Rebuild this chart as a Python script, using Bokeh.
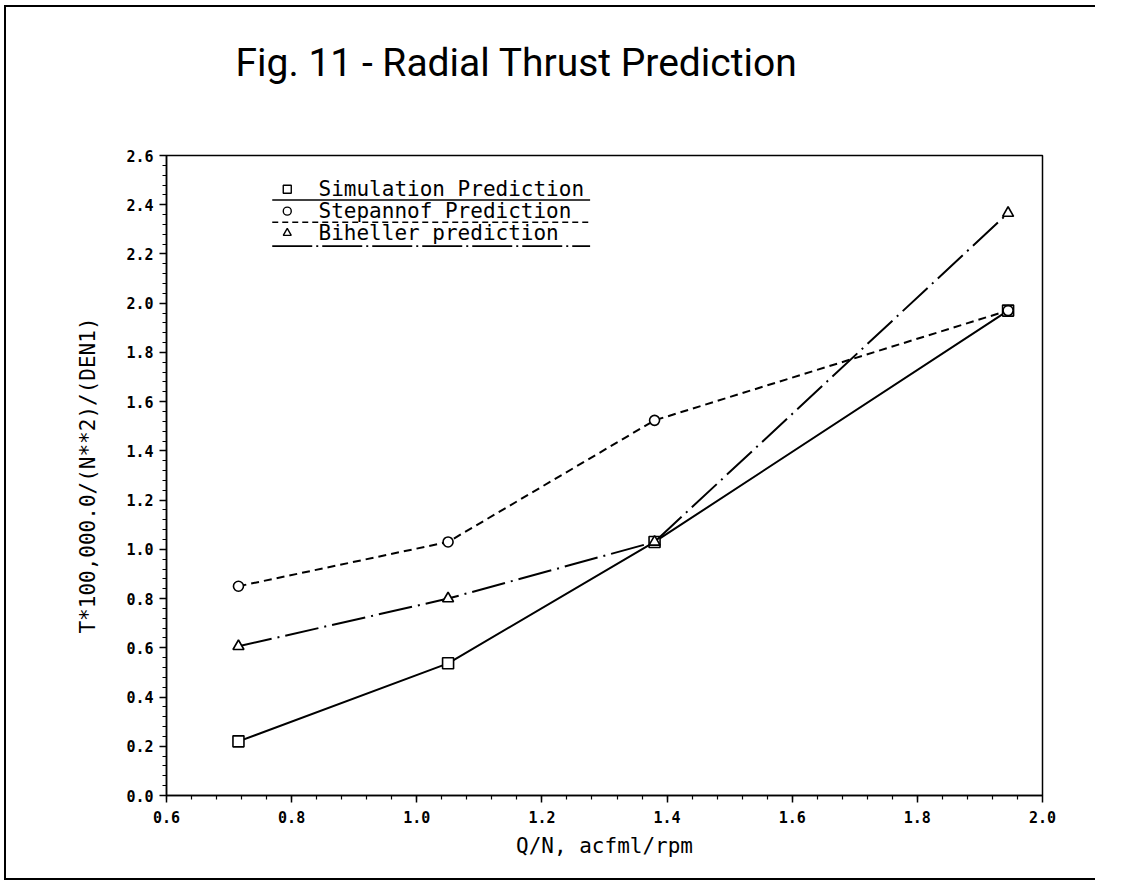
from bokeh.plotting import figure
from bokeh.models import FixedTicker, NumeralTickFormatter, Range1d, Title, InlineStyleSheet
from bokeh.embed import file_html
from bokeh.resources import INLINE

# Flow coefficient Q/N for the four operating points
q_over_n = [0.715, 1.05, 1.38, 1.945]

# Non-dimensional radial thrust for each prediction method
simulation = [0.22, 0.537, 1.03, 1.97]
stepannof = [0.85, 1.03, 1.524, 1.97]
biheller = [0.606, 0.80, 1.03, 2.366]

series_names = ["Simulation Prediction", "Stepannof Prediction", "Biheller prediction"]

x_major = [0.6, 0.8, 1.0, 1.2, 1.4, 1.6, 1.8, 2.0]
y_major = [round(0.2 * i, 1) for i in range(14)]

W, H = 1135, 885
LEFT, RIGHT, TOP, BOTTOM = 166, 93, 155, 90
p = figure(width=W, height=H, output_backend="svg", toolbar_location=None,
           x_range=Range1d(0.6, 2.0), y_range=Range1d(0.0, 2.6),
           min_border_left=LEFT, min_border_right=RIGHT,
           min_border_top=TOP, min_border_bottom=BOTTOM)
p.background_fill_color = "white"
p.border_fill_color = "white"
p.outline_line_color = "black"
p.outline_line_width = 1.5
p.grid.visible = False
# page frame around the sheet (open on the right-hand side)
p.stylesheets = [InlineStyleSheet(css="""
:host::after {
  content: "";
  position: absolute;
  left: 4px; top: 5px; right: 40px; bottom: 5px;
  border: 2px solid black;
  border-right: none;
  pointer-events: none;
  z-index: 10;
}
""")]

mono = "DejaVu Sans Mono"

# axes
p.xaxis.ticker = FixedTicker(ticks=x_major,
                             minor_ticks=[round(0.6 + 0.04 * i, 2) for i in range(35)])
p.yaxis.ticker = FixedTicker(ticks=y_major,
                             minor_ticks=[round(0.04 * i, 2) for i in range(66)])
for ax in (p.xaxis[0], p.yaxis[0]):
    ax.formatter = NumeralTickFormatter(format="0.0")
    ax.axis_line_width = 1.5
    ax.major_tick_line_width = 1.5
    ax.minor_tick_line_width = 1.2
    ax.major_tick_out = 7
    ax.major_tick_in = 0
    ax.minor_tick_out = 4
    ax.minor_tick_in = 0
    ax.major_label_text_font = mono
    ax.major_label_text_font_style = "bold"
    ax.major_label_text_font_size = "15px"
    ax.major_label_text_color = "black"
    ax.axis_label_text_font = mono
    ax.axis_label_text_font_style = "normal"
    ax.axis_label_text_font_size = "21px"
    ax.axis_label_text_color = "black"

p.xaxis.axis_label = "Q/N, acfml/rpm"
p.xaxis.major_label_standoff = 8
p.xaxis.axis_label_standoff = 8
p.yaxis.axis_label = "T*100,000.0/(N**2)/(DEN1)"
p.yaxis.major_label_standoff = 6
p.yaxis.axis_label_standoff = 23

# series
lw = 2
p.line(q_over_n, simulation, line_color="black", line_width=lw)
p.scatter(q_over_n, simulation, marker="square", size=11, fill_color="white",
          line_color="black", line_width=1.6)

p.line(q_over_n, stepannof, line_color="black", line_width=lw, line_dash="8 5")
p.scatter(q_over_n, stepannof, marker="circle", size=10, fill_color="white",
          line_color="black", line_width=1.6)

p.line(q_over_n, biheller, line_color="black", line_width=lw, line_dash="34 6 2 6")
p.scatter(q_over_n, biheller, marker="triangle", size=11, fill_color="white",
          line_color="black", line_width=1.6)

# legend: marker, name, and a line sample underneath each entry
leg_x0, leg_x1 = 0.769, 1.277
leg_mark_x, leg_text_x = 0.793, 0.843
leg_rows = [2.463, 2.374, 2.285]
leg_under = [2.419, 2.329, 2.232]
leg_markers = ["square", "circle", "triangle"]
leg_dashes = ["solid", "6 4", "40 4 2 4"]
for name, ym, yu, mk, dash in zip(series_names, leg_rows, leg_under, leg_markers, leg_dashes):
    p.scatter([leg_mark_x], [ym], marker=mk, size=8, fill_color="white",
              line_color="black", line_width=1.4)
    p.text([leg_text_x], [ym], text=[name], text_font={"value": mono},
           text_font_size="21px", text_baseline="middle", text_color="black")
    p.line([leg_x0, leg_x1], [yu, yu], line_color="black", line_width=1.6,
           line_dash=dash)

# blank band between the plot and the heading
p.add_layout(Title(text=" ", text_font_size="1px", standoff=67), "above")

# figure heading
p.add_layout(Title(text="Fig. 11 - Radial Thrust Prediction", text_font="Roboto",
                   text_font_size="39px", text_font_style="normal",
                   text_color="black", align="left", offset=69, standoff=0),
             "above")

open("out.html", "w").write(file_html(p, INLINE))
